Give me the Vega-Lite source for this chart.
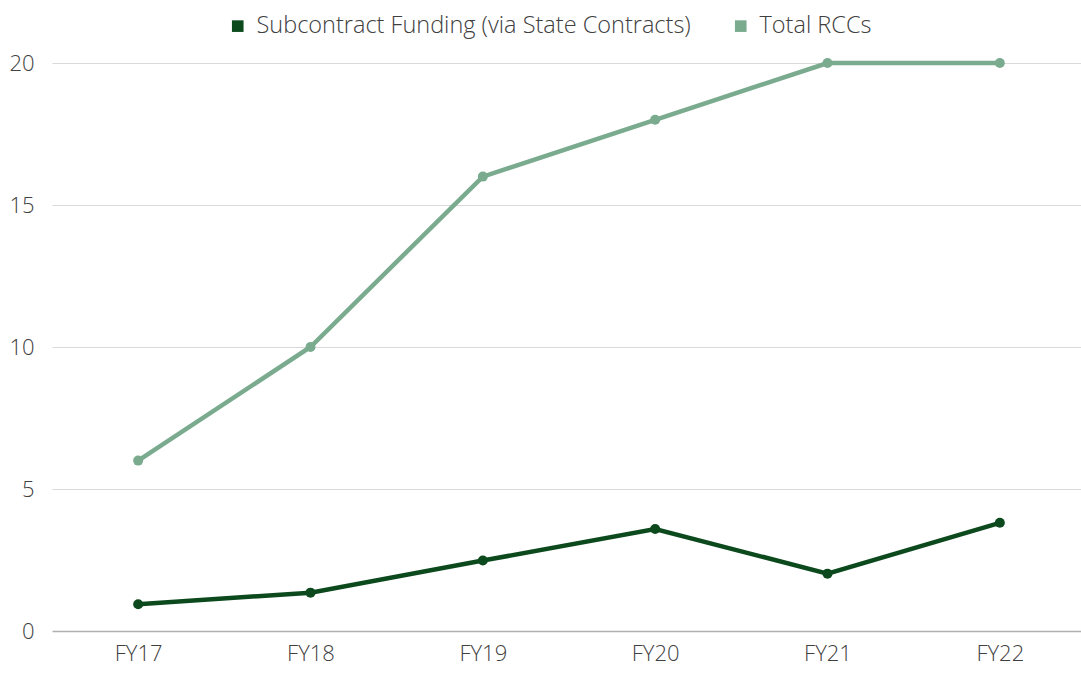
{
  "$schema": "https://vega.github.io/schema/vega-lite/v6.json",
  "width": 1034,
  "height": 568,
  "autosize": {"type": "none"},
  "padding": {"left": 52, "top": 63, "right": 0, "bottom": 42},
  "background": "white",
  "config": {
    "view": {"stroke": null},
    "font": "Open Sans",
    "axis": {"labelFont": "Open Sans", "labelFontSize": 22, "labelColor": "#404040", "labelFontWeight": 300}
  },
  "data": {
    "values": [
      {"year": "FY17", "series": "Subcontract Funding (via State Contracts)", "value": 0.94},
      {"year": "FY18", "series": "Subcontract Funding (via State Contracts)", "value": 1.35},
      {"year": "FY19", "series": "Subcontract Funding (via State Contracts)", "value": 2.48},
      {"year": "FY20", "series": "Subcontract Funding (via State Contracts)", "value": 3.59},
      {"year": "FY21", "series": "Subcontract Funding (via State Contracts)", "value": 2.02},
      {"year": "FY22", "series": "Subcontract Funding (via State Contracts)", "value": 3.81},
      {"year": "FY17", "series": "Total RCCs", "value": 6},
      {"year": "FY18", "series": "Total RCCs", "value": 10},
      {"year": "FY19", "series": "Total RCCs", "value": 16},
      {"year": "FY20", "series": "Total RCCs", "value": 18},
      {"year": "FY21", "series": "Total RCCs", "value": 20},
      {"year": "FY22", "series": "Total RCCs", "value": 20}
    ]
  },
  "encoding": {
    "x": {
      "field": "year", "type": "ordinal",
      "scale": {"type": "point", "padding": 0.5},
      "axis": {"title": null, "labelAngle": 0, "ticks": false, "domain": false, "grid": false, "labelPadding": 12}
    },
    "y": {
      "field": "value", "type": "quantitative",
      "scale": {"domain": [0, 20], "nice": false},
      "axis": {"title": null, "values": [0, 5, 10, 15, 20], "ticks": false, "domain": false,
               "gridColor": {"condition": {"test": "datum.value === 0", "value": "#b0b0b0"}, "value": "#d9d9d9"},
               "gridWidth": {"condition": {"test": "datum.value === 0", "value": 1.5}, "value": 1},
               "labelPadding": 18}
    },
    "color": {
      "field": "series", "type": "nominal",
      "scale": {"domain": ["Subcontract Funding (via State Contracts)", "Total RCCs"], "range": ["#0c4a1e", "#7aab8f"]},
      "legend": {
        "title": null, "orient": "none", "legendX": 174, "legendY": -49, "direction": "horizontal",
        "symbolType": "square", "symbolSize": 135, "symbolStrokeWidth": 0,
        "labelFontSize": 23.5, "labelFont": "Open Sans", "labelFontWeight": 300, "labelColor": "#404040",
        "labelLimit": 600, "columnPadding": 38, "labelOffset": 7
      }
    }
  },
  "layer": [
    {"mark": {"type": "line", "strokeWidth": 4.5}},
    {"mark": {"type": "point", "filled": true, "size": 100, "opacity": 1}}
  ]
}
